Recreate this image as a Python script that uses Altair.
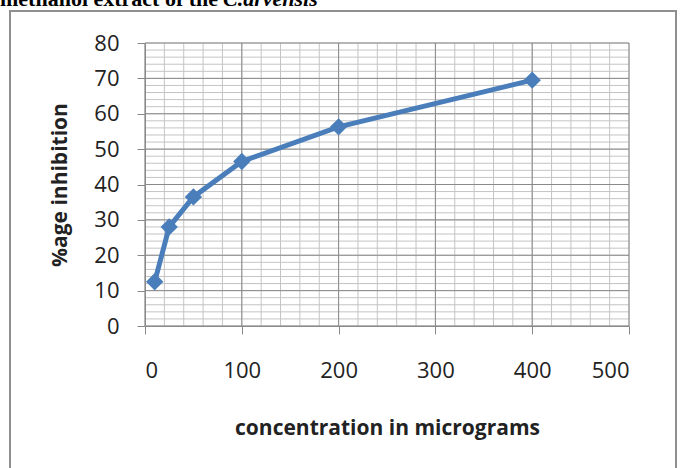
import altair as alt
import pandas as pd

conc = [10, 25, 50, 100, 200, 400]
inhibition = [12.5, 28.0, 36.5, 46.5, 56.3, 69.5]
x_ticks = [0, 100, 200, 300, 400, 500]
y_ticks = [0, 10, 20, 30, 40, 50, 60, 70, 80]
x_minor = list(range(0, 501, 20))
y_minor = list(range(0, 81, 2))

df = pd.DataFrame({"conc": conc, "inh": inhibition})
xs = alt.Scale(domain=[0, 500], nice=False, zero=False)
ys = alt.Scale(domain=[0, 80], nice=False, zero=False)

axis_common = dict(
    labelFont="Open Sans", labelFontSize=22, labelColor="#222222",
    titleFont="Open Sans", titleFontSize=21, titleFontWeight="bold", titleColor="#222222",
    domainColor="#8a8a8a", tickColor="#8a8a8a", tickSize=8, grid=False, zindex=1,
)
x_axis = alt.Axis(values=x_ticks, labelPadding=26, titlePadding=36, **axis_common)
y_axis = alt.Axis(values=y_ticks, labelPadding=18, titlePadding=23, **axis_common)
XT = "concentration in micrograms"
YT = "%age inhibition"

one = pd.DataFrame({"a": [0]})

frame = alt.Chart(one).mark_rect(fill="white", stroke="#8f8f8f", strokeWidth=2).encode(
    x=alt.value(-135), x2=alt.value(531), y=alt.value(-32), y2=alt.value(445)
)

cap1 = alt.Chart(one).mark_text(
    text="methanol extract of the", font="Liberation Serif", fontWeight="bold",
    fontSize=22, align="left", baseline="alphabetic", color="black"
).encode(x=alt.value(-145), y=alt.value(-37))
cap2 = alt.Chart(one).mark_text(
    text="C.arvensis", font="Liberation Serif", fontWeight="bold", fontStyle="italic",
    fontSize=22, align="left", baseline="alphabetic", color="black"
).encode(x=alt.value(78), y=alt.value(-37))

vminor = alt.Chart(pd.DataFrame({"v": x_minor})).mark_rule(color="#c4c4c4", strokeWidth=1).encode(
    x=alt.X("v:Q", scale=xs, title=XT, axis=x_axis), y=alt.value(0), y2=alt.value(283)
)
hminor = alt.Chart(pd.DataFrame({"v": y_minor})).mark_rule(color="#c4c4c4", strokeWidth=1).encode(
    y=alt.Y("v:Q", scale=ys, title=YT, axis=y_axis), x=alt.value(0), x2=alt.value(484)
)
vmajor = alt.Chart(pd.DataFrame({"v": x_ticks})).mark_rule(color="#8a8a8a", strokeWidth=1).encode(
    x=alt.X("v:Q", scale=xs, title=XT, axis=x_axis), y=alt.value(0), y2=alt.value(283)
)
hmajor = alt.Chart(pd.DataFrame({"v": y_ticks})).mark_rule(color="#8a8a8a", strokeWidth=1).encode(
    y=alt.Y("v:Q", scale=ys, title=YT, axis=y_axis), x=alt.value(0), x2=alt.value(484)
)

line = alt.Chart(df).mark_line(color="#4A7EBB", strokeWidth=5).encode(
    x=alt.X("conc:Q", scale=xs, title=XT, axis=x_axis),
    y=alt.Y("inh:Q", scale=ys, title=YT, axis=y_axis),
)
pts = alt.Chart(df).mark_point(shape="diamond", filled=True, size=300, opacity=1, color="#4A7EBB").encode(
    x=alt.X("conc:Q", scale=xs, title=XT, axis=x_axis),
    y=alt.Y("inh:Q", scale=ys, title=YT, axis=y_axis),
)

chart = alt.layer(frame, cap1, cap2, vminor, hminor, vmajor, hmajor, line, pts).properties(
    width=484, height=283,
    autosize=alt.AutoSizeParams(type="none"),
    padding={"left": 145, "top": 43, "right": 51, "bottom": 142},
    background="white",
).configure_view(stroke=None)

chart.save("out.html", embed_options={"renderer": "svg", "actions": False})
